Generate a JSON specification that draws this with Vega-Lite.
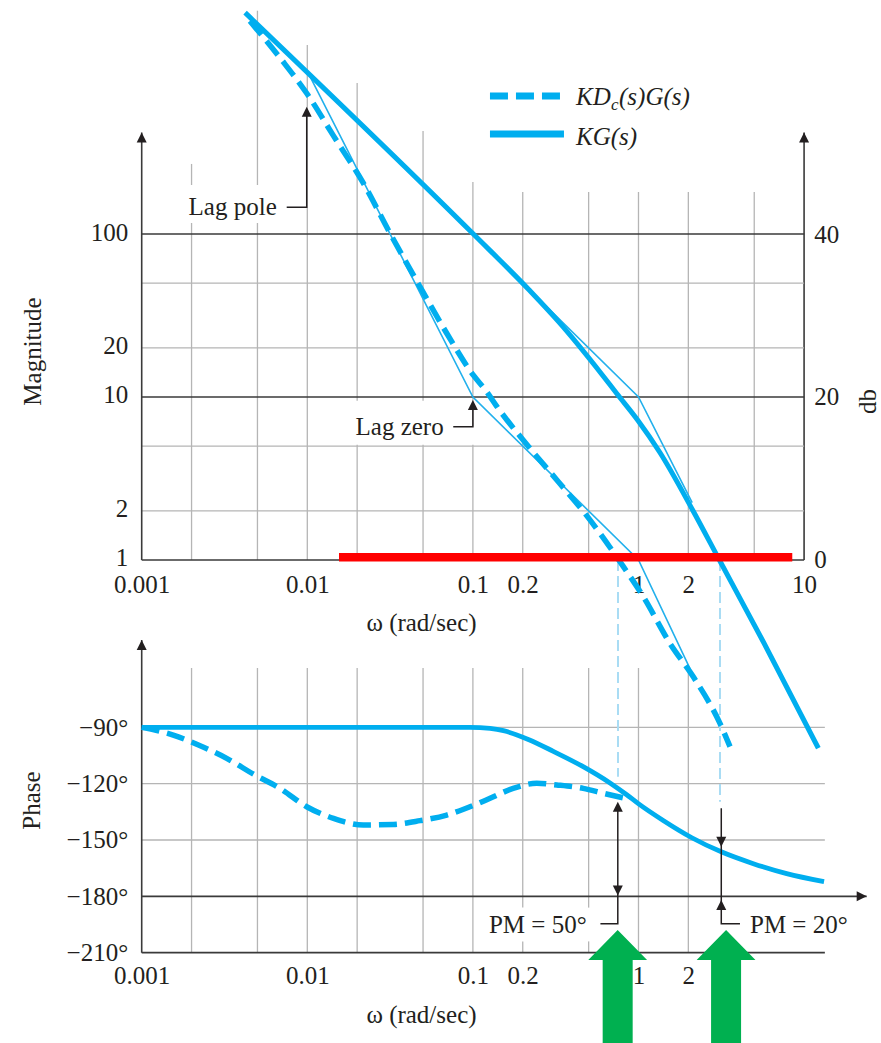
{
"$schema": "https://vega.github.io/schema/vega-lite/v6.json",
"width": 881, "height": 1043,
"autosize": {"type": "none"},
"padding": 0,
"background": "white",
"config": {
  "view": {"stroke": null},
  "font": "Liberation Serif",
  "text": {"font": "Liberation Serif", "fontSize": 25, "color": "#231f20"},
  "axis": {"labelFont": "Liberation Serif", "labelFontSize": 25, "labelColor": "#231f20", "titleFont": "Liberation Serif", "titleFontSize": 25, "titleFontWeight": "normal", "titleColor": "#231f20", "domain": false, "ticks": false, "tickSize": 0, "grid": false, "labelFlush": false, "labelOverlap": false, "labelBound": false}
},
"datasets": {
  "vgM": [{"w":0.002,"mag":1,"mag2":116.8},{"w":0.002,"mag":199.8,"mag2":269},{"w":0.005,"mag":1,"mag2":116.8},{"w":0.005,"mag":199.8,"mag2":2344},{"w":0.01,"mag":1,"mag2":1444},{"w":0.02,"mag":1,"mag2":5.1},{"w":0.02,"mag":9.5,"mag2":844},{"w":0.05,"mag":1,"mag2":5.1},{"w":0.05,"mag":9.5,"mag2":428.5},{"w":0.1,"mag":1,"mag2":5.1},{"w":0.1,"mag":6.6,"mag2":208.5},{"w":0.2,"mag":1,"mag2":181},{"w":0.5,"mag":1,"mag2":181},{"w":1,"mag":1,"mag2":181},{"w":2,"mag":1,"mag2":181},{"w":5,"mag":1,"mag2":181}],
  "hgMgray": [{"mag":2,"w":0.001,"w2":10},{"mag":5,"w":0.001,"w2":10},{"mag":20,"w":0.001,"w2":10},{"mag":50,"w":0.001,"w2":10}],
  "hgMdark": [{"mag":10,"w":0.001,"w2":10},{"mag":100,"w":0.001,"w2":10}],
  "axM": [{"w":0.001,"w2":0.001,"mag":1,"mag2":420},{"w":0.001,"w2":10,"mag":1,"mag2":1}],
  "axR": [{"w":10,"mag":1,"mag2":420}],
  "red": [{"w":0.01554,"w2":8.486,"mag":1}],
  "asym": [{"g":"c","w":0.01,"mag":1000},{"g":"c","w":0.1,"mag":10},{"g":"c","w":1,"mag":1},{"g":"c","w":2.05,"mag":0.215},{"g":"k","w":0.1,"mag":100},{"g":"k","w":1,"mag":10},{"g":"k","w":2.11,"mag":2.25}],
  "crossM": [{"w":0.752,"mag":1,"mag2":0.0468},{"w":3.106,"mag":1,"mag2":0.0329}],
  "kgMag": [{"w":0.00421,"mag":2280},{"w":0.0996,"mag":101},{"w":0.218,"mag":45.5},{"w":0.334,"mag":28.5},{"w":0.6,"mag":13.8},{"w":0.739,"mag":10.5},{"w":0.99,"mag":7.2},{"w":1.35,"mag":4.55},{"w":2.11,"mag":2.05},{"w":3.08,"mag":1.0},{"w":5.67,"mag":0.315},{"w":12.2,"mag":0.07}],
  "kdgMag": [{"w":0.0045,"mag":2026},{"w":0.007,"mag":1170},{"w":0.00992,"mag":730},{"w":0.0144,"mag":400},{"w":0.0218,"mag":205},{"w":0.0316,"mag":101},{"w":0.0479,"mag":47.5},{"w":0.0695,"mag":24.6},{"w":0.1006,"mag":13.6},{"w":0.121,"mag":10.8},{"w":0.139,"mag":8.8},{"w":0.221,"mag":4.85},{"w":0.33,"mag":3.0},{"w":0.475,"mag":1.93},{"w":0.773,"mag":0.976},{"w":1.069,"mag":0.596},{"w":1.549,"mag":0.308},{"w":2.143,"mag":0.192},{"w":3.105,"mag":0.0994},{"w":3.57,"mag":0.0716}],
  "connM": [{"g":"pole","o":1,"w":0.00751,"mag":145.8},{"g":"pole","o":2,"w":0.00992,"mag":145.8},{"g":"pole","o":3,"w":0.00992,"mag":560},{"g":"zero","o":1,"w":0.0761,"mag":6.57},{"g":"zero","o":2,"w":0.1,"mag":6.57},{"g":"zero","o":3,"w":0.1,"mag":9.2}],
  "headsM": [{"w":0.001,"mag":420,"a":0},{"w":10,"mag":420,"a":0},{"w":0.00992,"mag":604,"a":0},{"w":0.1,"mag":9.6,"a":0}],
  "textM": [{"w":0.00654,"mag":130.8,"t":"Lag pole"},{"w":0.0666,"mag":5.85,"t":"Lag zero"}],
  "legDash": [{"w":0.1268,"mag":702.6},{"w":0.3548,"mag":702.6}],
  "legSolid": [{"w":0.1268,"mag":410.8},{"w":0.3548,"mag":410.8}],
  "legText": [{"w":0.4195,"mag":618,"t":"KD"},{"w":0.7626,"mag":618,"t":"(s)G(s)"},{"w":0.4195,"mag":351.6,"t":"KG(s)"}],
  "legSub": [{"w":0.6823,"mag":576,"t":"c"}],
  "vgP": [{"w":0.002,"ph":-210,"ph2":-58.4},{"w":0.005,"ph":-210,"ph2":-58.4},{"w":0.01,"ph":-210,"ph2":-58.4},{"w":0.02,"ph":-210,"ph2":-58.4},{"w":0.05,"ph":-210,"ph2":-58.4},{"w":0.1,"ph":-210,"ph2":-58.4},{"w":0.2,"ph":-210,"ph2":-204},{"w":0.2,"ph":-186,"ph2":-58.4},{"w":0.5,"ph":-210,"ph2":-204},{"w":0.5,"ph":-186,"ph2":-58.4},{"w":1,"ph":-210,"ph2":-58.4},{"w":2,"ph":-210,"ph2":-58.4}],
  "hgP": [{"ph":-90,"w":0.001,"w2":13.35},{"ph":-120,"w":0.001,"w2":13.35},{"ph":-150,"w":0.001,"w2":13.35}],
  "axP": [{"w":0.001,"w2":0.001,"ph":-210,"ph2":-43.5},{"w":0.001,"w2":13.35,"ph":-210,"ph2":-210},{"w":0.001,"w2":23.88,"ph":-180,"ph2":-180}],
  "kgPh": [{"w":0.001,"ph":-90},{"w":0.0961,"ph":-90},{"w":0.127,"ph":-90.6},{"w":0.153,"ph":-91.8},{"w":0.218,"ph":-96.6},{"w":0.306,"ph":-102.8},{"w":0.469,"ph":-111.2},{"w":0.673,"ph":-119.6},{"w":0.849,"ph":-125.9},{"w":0.993,"ph":-130.5},{"w":1.41,"ph":-139.6},{"w":2.1,"ph":-148.8},{"w":3.16,"ph":-156.3},{"w":4.94,"ph":-162.6},{"w":7.85,"ph":-167.9},{"w":13.2,"ph":-172.2}],
  "kdgPh": [{"w":0.001,"ph":-90},{"w":0.00155,"ph":-94.1},{"w":0.0022,"ph":-99.4},{"w":0.00326,"ph":-106.5},{"w":0.00483,"ph":-115.4},{"w":0.00684,"ph":-122.5},{"w":0.00992,"ph":-132.3},{"w":0.0144,"ph":-138.5},{"w":0.0218,"ph":-142},{"w":0.0331,"ph":-141.7},{"w":0.0479,"ph":-139.7},{"w":0.0695,"ph":-136.7},{"w":0.1006,"ph":-131.6},{"w":0.127,"ph":-127.8},{"w":0.175,"ph":-122.5},{"w":0.243,"ph":-119.8},{"w":0.321,"ph":-120.7},{"w":0.464,"ph":-122.5},{"w":0.613,"ph":-125.1},{"w":0.829,"ph":-127.8}],
  "connP": [{"g":"pm50","o":1,"w":0.75,"ph":-131},{"g":"pm50","o":2,"w":0.75,"ph":-194.6},{"g":"pm50","o":3,"w":0.589,"ph":-194.6},{"g":"pm20","o":1,"w":3.162,"ph":-133.1},{"g":"pm20","o":2,"w":3.162,"ph":-194.6},{"g":"pm20","o":3,"w":4.1,"ph":-194.6}],
  "headsP": [{"w":0.001,"ph":-43.5,"a":0},{"w":23.88,"ph":-180,"a":90},{"w":0.75,"ph":-129.6,"a":0},{"w":0.75,"ph":-179.5,"a":180},{"w":3.162,"ph":-153.6,"a":180},{"w":3.162,"ph":-182,"a":0}],
  "pm50": [{"w":0.4866,"ph":-199.5,"t":"PM = 50°"}],
  "pm20": [{"w":4.713,"ph":-199.5,"t":"PM = 20°"}],
  "green": [{"w":0.7487,"ph":-197.9},{"w":3.38,"ph":-197.9}]
},
"resolve": {"scale": {"x": "independent", "y": "independent"}, "axis": {"x": "independent", "y": "independent"}},
"layer": [
  {
    "encoding": {
      "x": {"field": "w", "type": "quantitative", "scale": {"type": "log", "domain": [0.0001394, 29.14]},
            "axis": {"orient": "bottom", "offset": -90.3, "values": [0.001, 0.01, 0.1, 0.2, 1, 2], "format": "~g", "labelPadding": 11, "title": "ω (rad/sec)", "titleX": 421, "titleY": 62, "titleBaseline": "middle"}},
      "y": {"field": "ph", "type": "quantitative", "scale": {"domain": [-258.1, 297.3]},
            "axis": {"orient": "left", "offset": -141.7, "values": [-90, -120, -150, -180, -210], "labelExpr": "'−' + abs(datum.value) + '°'", "labelPadding": 14, "labelBaseline": "middle", "title": "Phase", "titleX": -110, "titleY": 800, "titleAngle": -90, "titleBaseline": "middle"}}
    },
    "layer": [
      {"data": {"name": "vgP"}, "mark": {"type": "rule", "color": "#b5b5b5", "strokeWidth": 1.3}, "encoding": {"y2": {"field": "ph2"}}},
      {"data": {"name": "hgP"}, "mark": {"type": "rule", "color": "#b5b5b5", "strokeWidth": 1.3}, "encoding": {"x2": {"field": "w2"}}},
      {"data": {"name": "axP"}, "mark": {"type": "rule", "color": "#3a3a3a", "strokeWidth": 1.6}, "encoding": {"x2": {"field": "w2"}, "y2": {"field": "ph2"}}},
      {"data": {"name": "kdgPh"}, "mark": {"type": "line", "color": "#00aeef", "strokeWidth": 5.5, "strokeDash": [18, 8], "interpolate": "monotone"}},
      {"data": {"name": "kgPh"}, "mark": {"type": "line", "color": "#00aeef", "strokeWidth": 4.8, "interpolate": "monotone"}},
      {"data": {"name": "connP"}, "mark": {"type": "line", "color": "#231f20", "strokeWidth": 1.5}, "encoding": {"detail": {"field": "g", "type": "nominal"}, "order": {"field": "o", "type": "quantitative"}}},
      {"data": {"name": "headsP"}, "mark": {"type": "point", "shape": "M0,0L0.5,1L-0.5,1Z", "size": 400, "filled": true, "color": "#231f20", "opacity": 1, "strokeWidth": 0}, "encoding": {"angle": {"field": "a", "type": "quantitative", "scale": null}}},
      {"data": {"name": "pm50"}, "mark": {"type": "text", "align": "right", "baseline": "alphabetic"}, "encoding": {"text": {"field": "t", "type": "nominal"}}},
      {"data": {"name": "pm20"}, "mark": {"type": "text", "align": "left", "baseline": "alphabetic"}, "encoding": {"text": {"field": "t", "type": "nominal"}}},
      {"data": {"name": "green"}, "mark": {"type": "point", "shape": "M0,0L0.49,0.5L0.25,0.5L0.25,2L-0.25,2L-0.25,0.5L-0.49,0.5Z", "size": 14400, "filled": true, "color": "#00b050", "opacity": 1, "strokeWidth": 0}}
    ]
  },
  {
    "data": {"name": "axR"},
    "mark": {"type": "rule", "color": "#3a3a3a", "strokeWidth": 1.6},
    "encoding": {
      "x": {"field": "w", "type": "quantitative", "scale": {"type": "log", "domain": [0.0001394, 29.14]}, "axis": null},
      "y": {"field": "mag", "type": "quantitative", "scale": {"type": "log", "domain": [0.001088, 2727]},
            "axis": {"orient": "right", "offset": -76.7, "values": [1, 10, 100], "labelExpr": "format(20 * log(datum.value) / LN10, '.0f')", "labelPadding": 9.5, "labelBaseline": "middle", "title": "db", "titleX": 63, "titleY": 401, "titleAngle": -90, "titleBaseline": "middle"}},
      "y2": {"field": "mag2"}
    }
  },
  {
    "encoding": {
      "x": {"field": "w", "type": "quantitative", "scale": {"type": "log", "domain": [0.0001394, 29.14]},
            "axis": {"orient": "bottom", "offset": -483, "values": [0.001, 0.01, 0.1, 0.2, 1, 2, 10], "format": "~g", "labelPadding": 12, "title": "ω (rad/sec)", "titleX": 421, "titleY": 62, "titleBaseline": "middle"}},
      "y": {"field": "mag", "type": "quantitative", "scale": {"type": "log", "domain": [0.001088, 2727]},
            "axis": {"orient": "left", "offset": -141.7, "values": [1, 2, 10, 20, 100], "format": "~g", "labelPadding": 14, "labelOffset": -2, "labelBaseline": "middle", "title": "Magnitude", "titleX": -109, "titleY": 351, "titleAngle": -90, "titleBaseline": "middle"}}
    },
    "layer": [
      {"data": {"name": "vgM"}, "mark": {"type": "rule", "color": "#b5b5b5", "strokeWidth": 1.3}, "encoding": {"y2": {"field": "mag2"}}},
      {"data": {"name": "hgMgray"}, "mark": {"type": "rule", "color": "#b5b5b5", "strokeWidth": 1.3}, "encoding": {"x2": {"field": "w2"}}},
      {"data": {"name": "hgMdark"}, "mark": {"type": "rule", "color": "#3a3a3a", "strokeWidth": 1.3}, "encoding": {"x2": {"field": "w2"}}},
      {"data": {"name": "axM"}, "mark": {"type": "rule", "color": "#3a3a3a", "strokeWidth": 1.6}, "encoding": {"x2": {"field": "w2"}, "y2": {"field": "mag2"}}},
      {"data": {"name": "asym"}, "mark": {"type": "line", "color": "#22b0ec", "strokeWidth": 1.6}, "encoding": {"detail": {"field": "g", "type": "nominal"}}},
      {"data": {"name": "crossM"}, "mark": {"type": "rule", "color": "#a9dcf4", "strokeWidth": 2, "strokeDash": [11, 5]}, "encoding": {"y2": {"field": "mag2"}}},
      {"data": {"name": "kdgMag"}, "mark": {"type": "line", "color": "#00aeef", "strokeWidth": 5.5, "strokeDash": [18, 8], "interpolate": "monotone"}},
      {"data": {"name": "kgMag"}, "mark": {"type": "line", "color": "#00aeef", "strokeWidth": 5, "interpolate": "monotone"}},
      {"data": {"name": "connM"}, "mark": {"type": "line", "color": "#231f20", "strokeWidth": 1.5}, "encoding": {"detail": {"field": "g", "type": "nominal"}, "order": {"field": "o", "type": "quantitative"}}},
      {"data": {"name": "headsM"}, "mark": {"type": "point", "shape": "M0,0L0.5,1L-0.5,1Z", "size": 400, "filled": true, "color": "#231f20", "opacity": 1, "strokeWidth": 0}, "encoding": {"angle": {"field": "a", "type": "quantitative", "scale": null}}},
      {"data": {"name": "textM"}, "mark": {"type": "text", "align": "right", "baseline": "alphabetic"}, "encoding": {"text": {"field": "t", "type": "nominal"}}},
      {"data": {"name": "legDash"}, "mark": {"type": "line", "color": "#00aeef", "strokeWidth": 7, "strokeDash": [18, 8]}},
      {"data": {"name": "legSolid"}, "mark": {"type": "line", "color": "#00aeef", "strokeWidth": 7}},
      {"data": {"name": "legText"}, "mark": {"type": "text", "align": "left", "baseline": "alphabetic", "fontStyle": "italic"}, "encoding": {"text": {"field": "t", "type": "nominal"}}},
      {"data": {"name": "legSub"}, "mark": {"type": "text", "align": "left", "baseline": "alphabetic", "fontStyle": "italic", "fontSize": 17}, "encoding": {"text": {"field": "t", "type": "nominal"}}},
      {"data": {"name": "red"}, "mark": {"type": "rule", "color": "#ff0000", "strokeWidth": 8.5, "yOffset": -2.7}, "encoding": {"x2": {"field": "w2"}}}
    ]
  }
]
}
